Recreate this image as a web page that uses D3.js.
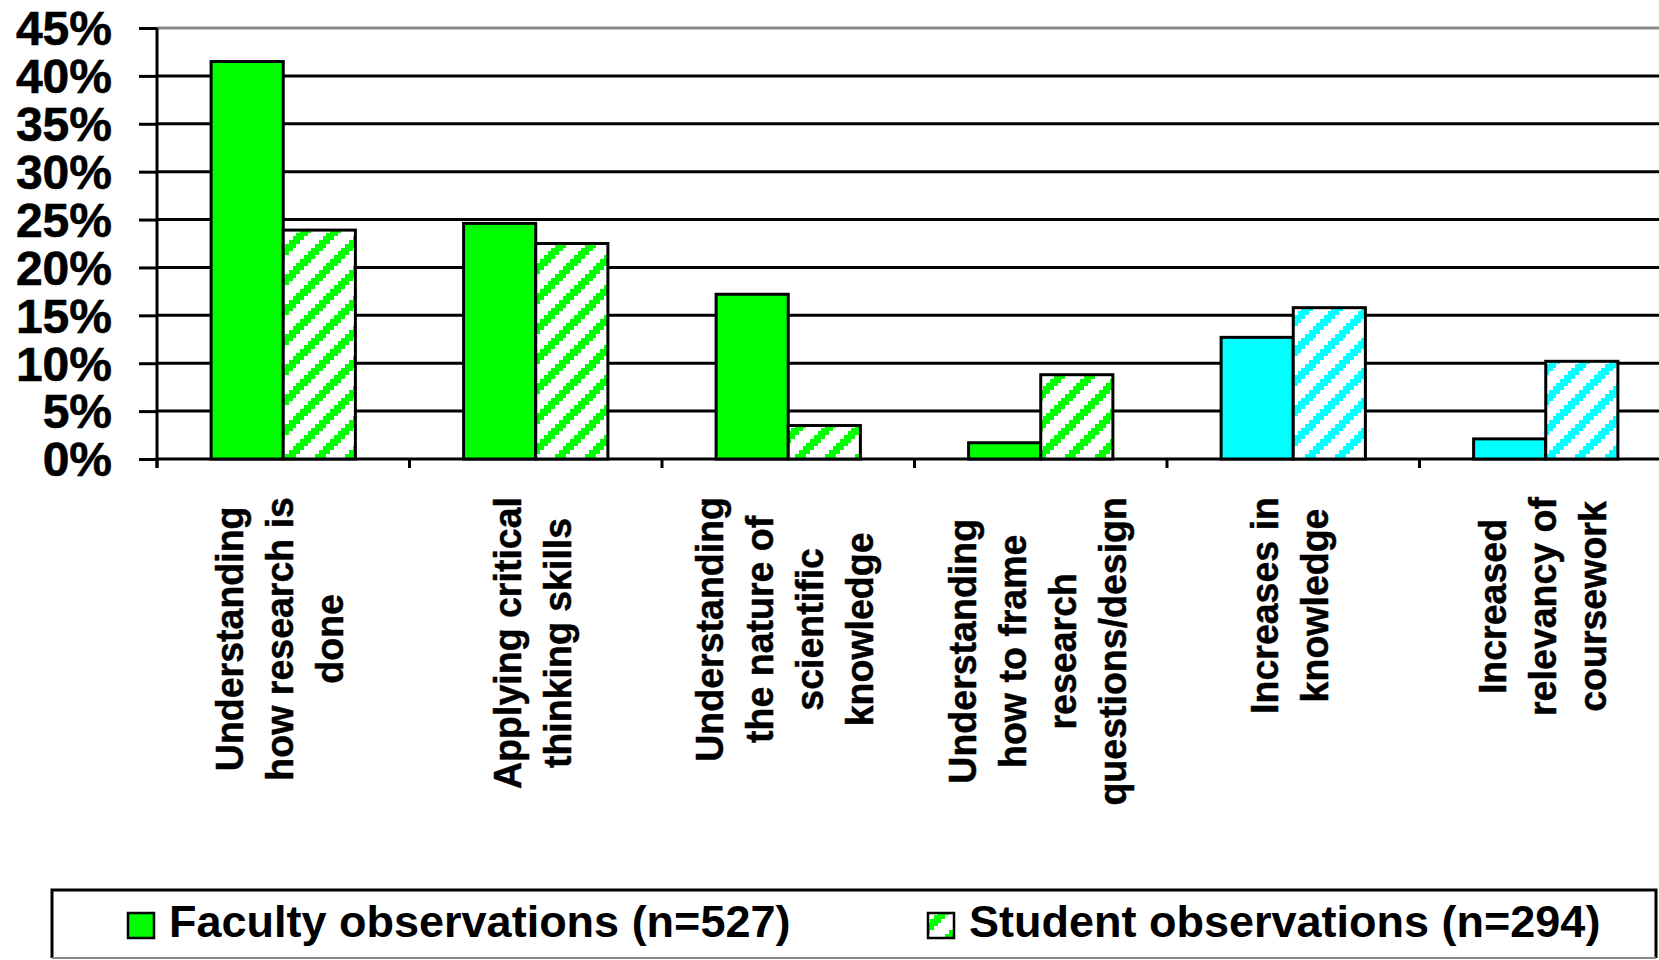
<!DOCTYPE html>
<html>
<head>
<meta charset="utf-8">
<script src="https://cdn.jsdelivr.net/npm/d3@7"></script>
<style>
  html, body { margin: 0; padding: 0; background: #fff; }
  svg { display: block; font-family: "Liberation Sans", Arial, Helvetica, sans-serif; font-weight: bold; }
</style>
</head>
<body>
<svg id="chart" width="1659" height="960"></svg>
<script>
// ---- data ----
const categories = [
  "Understanding how research is done",
  "Applying critical thinking skills",
  "Understanding the nature of scientific knowledge",
  "Understanding how to frame research questions/design",
  "Increases in knowledge",
  "Increased relevancy of coursework"
];
const categoryLines = [
  ["Understanding", "how research is", "done"],
  ["Applying critical", "thinking skills"],
  ["Understanding", "the nature of", "scientific", "knowledge"],
  ["Understanding", "how to frame", "research", "questions/design"],
  ["Increases in", "knowledge"],
  ["Increased", "relevancy of", "coursework"]
];
const categoryGroup = ["skills", "skills", "skills", "skills", "knowledge", "knowledge"];
const seriesNames = ["Faculty observations (n=527)", "Student observations (n=294)"];
const facultyValues = [41.5, 24.6, 17.2, 1.7, 12.7, 2.1];
const studentValues = [23.9, 22.5, 3.5, 8.8, 15.8, 10.2];
const yTickValues = [0, 5, 10, 15, 20, 25, 30, 35, 40, 45];

// ---- layout ----
const W = 1659, H = 960;
const plot = { left: 157, top: 28, bottom: 459, step: 252.5 };
const svg = d3.select("#chart");
svg.append("rect").attr("width", W).attr("height", H).attr("fill", "#fff");

const x = d3.scaleBand()
  .domain(categories)
  .range([plot.left, plot.left + plot.step * categories.length])
  .padding(0);
const xs = d3.scaleBand()
  .domain(seriesNames)
  .range([0, x.bandwidth()])
  .paddingInner(0)
  .paddingOuter(0.75);
const y = d3.scaleLinear().domain([0, 45]).range([plot.bottom, plot.top]);
const color = d3.scaleOrdinal().domain(["skills", "knowledge"]).range(["#00FF00", "#00FFFF"]);
const plotRight = x.range()[1];

// ---- hatch patterns (stair-stepped upward diagonal) ----
const defs = svg.append("defs");
const unit = 3.75, cells = 8;
color.domain().forEach(g => {
  const p = defs.append("pattern")
    .attr("id", "hatch-" + g)
    .attr("patternUnits", "userSpaceOnUse")
    .attr("width", unit * cells).attr("height", unit * cells);
  p.append("rect").attr("width", unit * cells).attr("height", unit * cells).attr("fill", "#fff");
  const px = [];
  for (let r = 0; r < cells; r++) {
    for (let k = 0; k < 3; k++) px.push([(5 + k - r + cells * 2) % cells, r]);
  }
  p.selectAll("rect.px").data(px).join("rect")
    .attr("class", "px")
    .attr("x", d => d[0] * unit).attr("y", d => d[1] * unit)
    .attr("width", unit + 0.2).attr("height", unit + 0.2)
    .attr("shape-rendering", "crispEdges")
    .attr("fill", color(g));
});

// ---- gridlines ----
svg.append("g").selectAll("line").data(yTickValues).join("line")
  .attr("x1", plot.left).attr("x2", plotRight)
  .attr("y1", d => y(d)).attr("y2", d => y(d))
  .attr("stroke", d => d === 45 ? "#888" : "#000")
  .attr("stroke-width", 3);

// ---- bars ----
const rows = categories.map((c, i) => ({
  cat: c, group: categoryGroup[i],
  vals: [facultyValues[i], studentValues[i]]
}));
const gBars = svg.append("g");
rows.forEach(row => {
  row.vals.forEach((v, si) => {
    gBars.append("rect")
      .attr("x", x(row.cat) + xs(seriesNames[si]))
      .attr("width", xs.bandwidth())
      .attr("y", y(v))
      .attr("height", y(0) - y(v))
      .attr("fill", si === 0 ? color(row.group) : "url(#hatch-" + row.group + ")")
      .attr("stroke", "#000")
      .attr("stroke-width", 3);
  });
});

// ---- y axis ----
const yAxis = d3.axisLeft(y)
  .tickValues(yTickValues)
  .tickSize(18)
  .tickSizeOuter(0)
  .tickPadding(27)
  .tickFormat(d => d + "%");
const gy = svg.append("g").attr("transform", `translate(${plot.left},0)`).call(yAxis);
gy.select(".domain").remove();
gy.selectAll(".tick line").attr("stroke", "#000").attr("stroke-width", 3);
gy.selectAll(".tick text")
  .attr("fill", "#000")
  .attr("stroke", "#000")
  .attr("stroke-width", 0.6)
  .attr("font-size", 48)
  .attr("font-weight", "bold")
  .attr("font-family", '"Liberation Sans", Arial, sans-serif')
  .attr("dy", "0.35em");
svg.append("line")
  .attr("x1", plot.left).attr("x2", plot.left)
  .attr("y1", plot.top).attr("y2", plot.bottom + 9)
  .attr("stroke", "#000").attr("stroke-width", 3);

// ---- x axis ticks (category boundaries) ----
svg.append("g").selectAll("line").data(categories).join("line")
  .attr("x1", d => x(d)).attr("x2", d => x(d))
  .attr("y1", plot.bottom).attr("y2", plot.bottom + 9)
  .attr("stroke", "#000").attr("stroke-width", 3);

// ---- rotated category labels (slightly condensed bold face) ----
const labelTop = 497, lineGap = 50, labelFont = 39.5, labelSqueeze = 0.95;
categories.forEach((c, i) => {
  const lines = categoryLines[i];
  const cx = x(c) + x.bandwidth() / 2 - 4;
  const g = svg.append("g");
  const texts = lines.map((t, li) => {
    const bx = cx + (li - (lines.length - 1) / 2) * lineGap + labelFont * 0.716 / 2;
    return g.append("text")
      .attr("text-anchor", "middle")
      .attr("font-size", labelFont)
      .attr("font-weight", "bold")
      .attr("fill", "#000")
      .attr("stroke", "#000")
      .attr("stroke-width", 0.5)
      .attr("data-bx", bx)
      .text(t);
  });
  const maxLen = d3.max(texts, t => t.node().getComputedTextLength()) * labelSqueeze;
  const cy = labelTop + maxLen / 2;
  texts.forEach(t => {
    t.attr("transform", `translate(${t.attr("data-bx")},${cy}) rotate(-90) scale(${labelSqueeze},1)`)
      .attr("data-bx", null);
  });
});

// ---- legend ----
const leg = { left: 52, top: 890, right: 1656, bottom: 958 };
const gl = svg.append("g");
gl.append("rect")
  .attr("x", leg.left).attr("y", leg.top)
  .attr("width", leg.right - leg.left).attr("height", leg.bottom - leg.top)
  .attr("fill", "#fff");
gl.append("path")
  .attr("d", `M${leg.left},${leg.bottom} V${leg.top} H${leg.right} V${leg.bottom}`)
  .attr("fill", "none").attr("stroke", "#000").attr("stroke-width", 3);
gl.append("line")
  .attr("x1", leg.left).attr("x2", leg.right)
  .attr("y1", leg.bottom).attr("y2", leg.bottom)
  .attr("stroke", "#888").attr("stroke-width", 2);

const legendItems = [
  { name: seriesNames[0], fill: color("skills"), mx: 128, tx: 169 },
  { name: seriesNames[1], fill: "url(#hatch-skills)", mx: 928, tx: 969 }
];
legendItems.forEach(it => {
  gl.append("rect")
    .attr("x", it.mx).attr("y", 913)
    .attr("width", 26).attr("height", 25)
    .attr("fill", it.fill)
    .attr("stroke", "#000").attr("stroke-width", 2.5);
  gl.append("text")
    .attr("x", it.tx).attr("y", 937)
    .attr("font-size", 45)
    .attr("font-weight", "bold")
    .attr("fill", "#000")
    .text(it.name);
});
</script>
</body>
</html>
